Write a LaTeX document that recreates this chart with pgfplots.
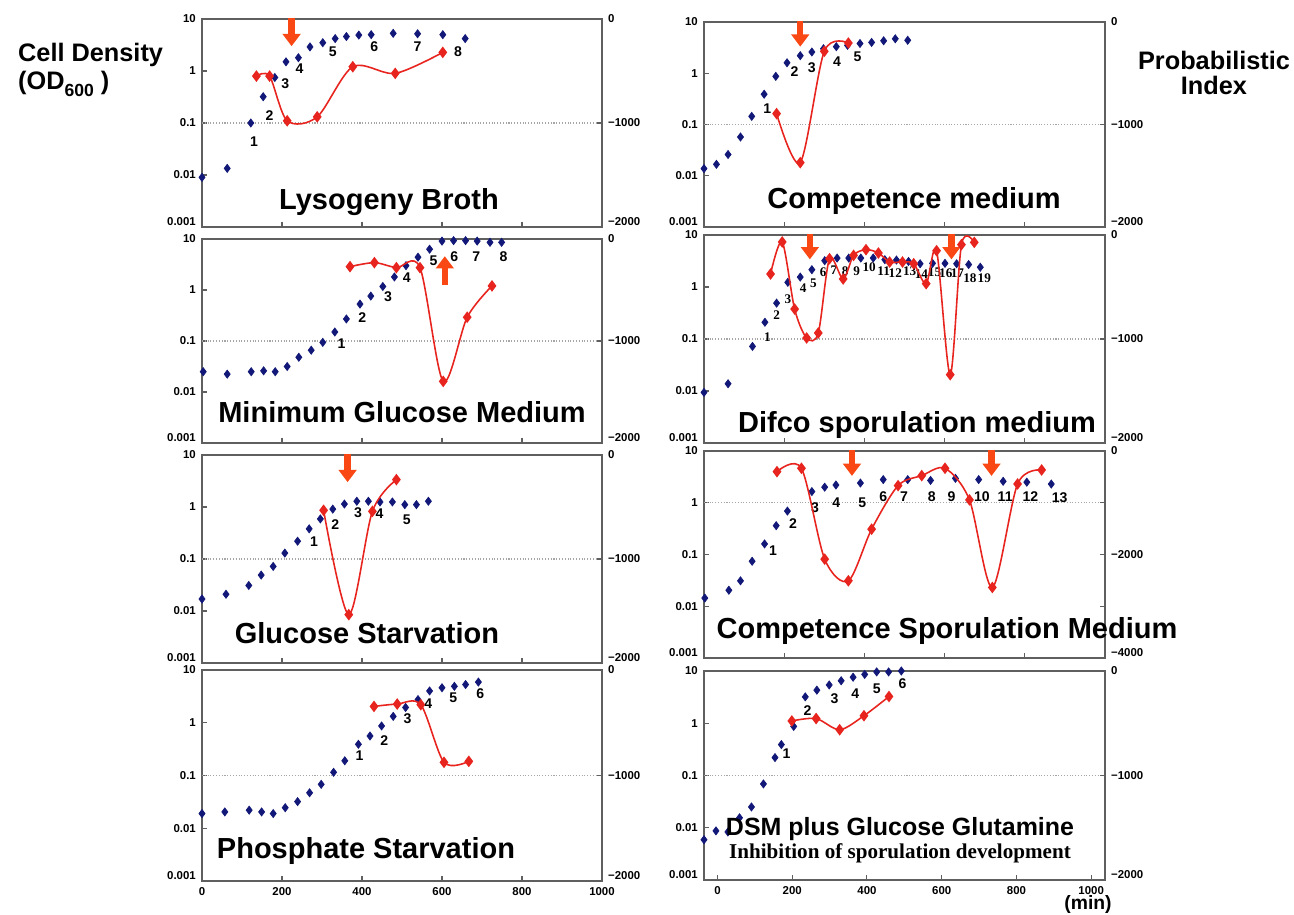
\documentclass[border=0pt]{standalone}
\usepackage{fontspec}
\setmainfont{Liberation Sans}
\newfontfamily\serifb{Liberation Serif}
\usepackage{pgfplots}
\pgfplotsset{compat=1.18}
\usetikzlibrary{arrows.meta}
\definecolor{navy}{RGB}{18,24,120}
\definecolor{pired}{RGB}{232,36,30}
\definecolor{arrowc}{RGB}{250,72,20}
\definecolor{framec}{RGB}{95,95,95}
\newcommand\tickf{\fontsize{6.5}{7.5}\selectfont\bfseries}
\newcommand\numf{\fontsize{8}{9}\selectfont\bfseries}
\newcommand\numsf{\serifb\fontsize{7.5}{8}\selectfont\bfseries}
\newcommand\ttlf{\bfseries\fontsize{16.5}{18}\selectfont}
\newcommand\lo[1]{\raisebox{6pt}{#1}}
\newcommand\hi[1]{\raisebox{-2pt}{#1}}
\pgfplotsset{every axis/.append style={scale only axis, clip=false, anchor=south west,
     axis line style={draw=framec, line width=0.9pt},
     tick style={draw=framec, line width=0.6pt},
     major tick length=3pt, tick align=inside,
     ticklabel style={font=\tickf}}}
\tikzset{
  bluepts/.style={mark=diamond*, mark size=2.3pt, color=navy},
  redline/.style={color=pired, line width=0.9pt, mark=diamond*, mark size=2.6pt, mark options={fill=pired}},
  arr/.style={draw=arrowc, line width=3.6pt, -{Triangle[width=10pt,length=7pt]}},
  numlab/.style={font=\numf, inner sep=0pt},
  numlabs/.style={font=\numsf, inner sep=0pt},
  dline/.style={densely dotted, gray!70, line width=0.6pt},
}
\begin{document}
\begin{tikzpicture}
\path[use as bounding box] (0,0) rectangle (25.88,18.3);

% ---------------- Panel L1: Lysogeny Broth
\begin{axis}[ymode=log, ymin=0.001, ymax=10, xmin=0, xmax=1000, ytick={0.001,0.01,0.1,1,10}, yticklabels={\lo{0.001},0.01,0.1,1,\hi{10}}, yminorticks=false, ytick pos=left, xtick pos=bottom, xtick={200,400,600,800}, xticklabels={}, at={(4.04cm,13.76cm)}, width=8cm, height=4.16cm]
\draw[dline] (axis cs:0,0.1) -- (axis cs:1000,0.1);
\addplot[only marks, bluepts] coordinates {(0,0.009) (63,0.0134) (122,0.1) (153,0.32) (182,0.75) (210,1.5) (241,1.8) (270,2.9) (302,3.5) (333,4.2) (361,4.6) (392,4.9) (423,5.0) (478,5.3) (539,5.2) (602,5.0) (658,4.2)};
\node[numlab] at (axis cs:130,0.044) {1};
\node[numlab] at (axis cs:169,0.14) {2};
\node[numlab] at (axis cs:208,0.58) {3};
\node[numlab] at (axis cs:244,1.1) {4};
\node[numlab] at (axis cs:327,2.36) {5};
\node[numlab] at (axis cs:431,2.9) {6};
\node[numlab] at (axis cs:539,2.9) {7};
\node[numlab] at (axis cs:640,2.36) {8};
\draw[arr] (axis cs:224,10.5) -- (axis cs:224,3.0);
\end{axis}
\begin{axis}[axis y line*=right, axis x line=none, ymin=-2000, ymax=0, xmin=0, xmax=1000, ytick={-2000,-1000,0}, yticklabels={\lo{−2000},−1000,\hi{0}}, at={(4.04cm,13.76cm)}, width=8cm, height=4.16cm]
\addplot[smooth, redline] coordinates {(136,-549) (169,-549) (213,-979) (288,-941) (377,-459) (483,-523) (602,-321)};
\end{axis}

% ---------------- Panel L2: Minimum Glucose Medium
\begin{axis}[ymode=log, ymin=0.001, ymax=10, xmin=0, xmax=1000, ytick={0.001,0.01,0.1,1,10}, yticklabels={\lo{0.001},0.01,0.1,1,\hi{10}}, yminorticks=false, ytick pos=left, xtick pos=bottom, xtick={200,400,600,800}, xticklabels={}, at={(4.04cm,9.44cm)}, width=8cm, height=4.08cm]
\draw[dline] (axis cs:0,0.1) -- (axis cs:1000,0.1);
\addplot[only marks, bluepts] coordinates {(3,0.025) (63,0.0224) (123,0.025) (154,0.026) (183,0.025) (213,0.0316) (242,0.048) (273,0.066) (302,0.094) (332,0.15) (361,0.27) (395,0.53) (422,0.76) (452,1.17) (481,1.8) (510,3.0) (540,4.4) (569,6.3) (600,9.1) (629,9.3) (659,9.3) (688,9.1) (720,8.6) (749,8.6)};
\node[numlab] at (axis cs:349,0.09) {1};
\node[numlab] at (axis cs:401,0.29) {2};
\node[numlab] at (axis cs:465,0.74) {3};
\node[numlab] at (axis cs:512,1.78) {4};
\node[numlab] at (axis cs:579,3.7) {5};
\node[numlab] at (axis cs:631,4.5) {6};
\node[numlab] at (axis cs:686,4.5) {7};
\node[numlab] at (axis cs:754,4.5) {8};
\draw[arr] (axis cs:607,1.25) -- (axis cs:607,4.6);
\end{axis}
\begin{axis}[axis y line*=right, axis x line=none, ymin=-2000, ymax=0, xmin=0, xmax=1000, ytick={-2000,-1000,0}, yticklabels={\lo{−2000},−1000,\hi{0}}, at={(4.04cm,9.44cm)}, width=8cm, height=4.08cm]
\addplot[smooth, redline] coordinates {(370,-271) (431,-232) (486,-281) (545,-281) (603,-1396) (663,-767) (725,-460)};
\end{axis}

% ---------------- Panel L3: Glucose Starvation
\begin{axis}[ymode=log, ymin=0.001, ymax=10, xmin=0, xmax=1000, ytick={0.001,0.01,0.1,1,10}, yticklabels={\lo{0.001},0.01,0.1,1,\hi{10}}, yminorticks=false, ytick pos=left, xtick pos=bottom, xtick={200,400,600,800}, xticklabels={}, at={(4.04cm,5.04cm)}, width=8cm, height=4.16cm]
\draw[dline] (axis cs:0,0.1) -- (axis cs:1000,0.1);
\addplot[only marks, bluepts] coordinates {(0,0.017) (60,0.021) (117,0.031) (148,0.049) (178,0.072) (207,0.13) (239,0.22) (268,0.38) (296,0.59) (327,0.91) (356,1.14) (387,1.29) (416,1.29) (445,1.25) (476,1.25) (507,1.11) (536,1.11) (566,1.29)};
\node[numlab] at (axis cs:280,0.22) {1};
\node[numlab] at (axis cs:333,0.46) {2};
\node[numlab] at (axis cs:390,0.77) {3};
\node[numlab] at (axis cs:444,0.74) {4};
\node[numlab] at (axis cs:512,0.57) {5};
\draw[arr] (axis cs:364,10.5) -- (axis cs:364,3.0);
\end{axis}
\begin{axis}[axis y line*=right, axis x line=none, ymin=-2000, ymax=0, xmin=0, xmax=1000, ytick={-2000,-1000,0}, yticklabels={\lo{−2000},−1000,\hi{0}}, at={(4.04cm,5.04cm)}, width=8cm, height=4.16cm]
\addplot[smooth, redline] coordinates {(304,-532) (367,-1535) (426,-542) (486,-237)};
\end{axis}

% ---------------- Panel L4: Phosphate Starvation
\begin{axis}[ymode=log, ymin=0.001, ymax=10, xmin=0, xmax=1000, ytick={0.001,0.01,0.1,1,10}, yticklabels={\lo{0.001},0.01,0.1,1,\hi{10}}, yminorticks=false, ytick pos=left, xtick pos=bottom, xtick={0,200,400,600,800,1000}, xticklabels={0,200,400,600,800,1000}, at={(4.04cm,0.68cm)}, width=8cm, height=4.22cm]
\draw[dline] (axis cs:0,0.1) -- (axis cs:1000,0.1);
\addplot[only marks, bluepts] coordinates {(0,0.019) (57,0.0204) (118,0.022) (149,0.0204) (178,0.019) (208,0.0245) (239,0.032) (269,0.047) (298,0.068) (329,0.115) (357,0.19) (391,0.39) (420,0.56) (449,0.87) (478,1.32) (509,1.95) (540,2.75) (569,4.0) (600,4.6) (631,4.9) (659,5.3) (691,5.9)};
\node[numlab] at (axis cs:394,0.24) {1};
\node[numlab] at (axis cs:456,0.45) {2};
\node[numlab] at (axis cs:514,1.2) {3};
\node[numlab] at (axis cs:566,2.3) {4};
\node[numlab] at (axis cs:628,2.95) {5};
\node[numlab] at (axis cs:696,3.6) {6};
\end{axis}
\begin{axis}[axis y line*=right, axis x line=none, ymin=-2000, ymax=0, xmin=0, xmax=1000, ytick={-2000,-1000,0}, yticklabels={\lo{−2000},−1000,\hi{0}}, at={(4.04cm,0.68cm)}, width=8cm, height=4.22cm]
\addplot[smooth, redline] coordinates {(430,-345) (488,-323) (547,-329) (605,-875) (667,-866)};
\end{axis}

% ---------------- Panel R1: Competence medium
\begin{axis}[ymode=log, ymin=0.001, ymax=10, xmin=0, xmax=1000, ytick={0.001,0.01,0.1,1,10}, yticklabels={\lo{0.001},0.01,0.1,1,\hi{10}}, yminorticks=false, ytick pos=left, xtick pos=bottom, xtick={200,400,600,800}, xticklabels={}, at={(14.08cm,13.76cm)}, width=8.02cm, height=4.10cm]
\draw[dline] (axis cs:0,0.1) -- (axis cs:1000,0.1);
\addplot[only marks, bluepts] coordinates {(0,0.0138) (31,0.0167) (60,0.026) (91,0.057) (119,0.144) (150,0.39) (179,0.87) (207,1.6) (240,2.2) (269,2.6) (298,3.0) (330,3.3) (358,3.5) (389,3.8) (418,4.0) (448,4.3) (477,4.7) (508,4.4)};
\node[numlab] at (axis cs:158,0.2) {1};
\node[numlab] at (axis cs:226,1.1) {2};
\node[numlab] at (axis cs:269,1.26) {3};
\node[numlab] at (axis cs:332,1.66) {4};
\node[numlab] at (axis cs:383,2.1) {5};
\draw[arr] (axis cs:240,10.5) -- (axis cs:240,3.3);
\end{axis}
\begin{axis}[axis y line*=right, axis x line=none, ymin=-2000, ymax=0, xmin=0, xmax=1000, ytick={-2000,-1000,0}, yticklabels={\lo{−2000},−1000,\hi{0}}, at={(14.08cm,13.76cm)}, width=8.02cm, height=4.10cm]
\addplot[smooth, redline] coordinates {(181,-894) (240,-1372) (300,-286) (360,-205)};
\end{axis}

% ---------------- Panel R2: Difco sporulation medium
\begin{axis}[ymode=log, ymin=0.001, ymax=10, xmin=0, xmax=1000, ytick={0.001,0.01,0.1,1,10}, yticklabels={\lo{0.001},0.01,0.1,1,\hi{10}}, yminorticks=false, ytick pos=left, xtick pos=bottom, xtick={200,400,600,800}, xticklabels={}, at={(14.08cm,9.44cm)}, width=8.02cm, height=4.16cm]
\draw[dline] (axis cs:0,0.1) -- (axis cs:1000,0.1);
\addplot[only marks, bluepts] coordinates {(0,0.0094) (60,0.0138) (121,0.072) (152,0.21) (181,0.49) (209,1.23) (240,1.55) (269,2.15) (301,3.2) (332,3.6) (361,3.6) (391,3.6) (422,3.6) (451,3.35) (480,3.3) (510,3.1) (539,2.8) (570,2.85) (601,2.85) (630,2.8) (660,2.7) (689,2.4)};
\node[numlabs] at (axis cs:158,0.11) {1};
\node[numlabs] at (axis cs:181,0.29) {2};
\node[numlabs] at (axis cs:209,0.57) {3};
\node[numlabs] at (axis cs:247,0.96) {4};
\node[numlabs] at (axis cs:273,1.2) {5};
\node[numlabs] at (axis cs:297,1.9) {6};
\node[numlabs] at (axis cs:324,2.15) {7};
\node[numlabs] at (axis cs:352,2.0) {8};
\node[numlabs] at (axis cs:381,2.0) {9};
\node[numlabs] at (axis cs:412,2.4) {10};
\node[numlabs] at (axis cs:448,2.0) {11};
\node[numlabs] at (axis cs:477,1.86) {12};
\node[numlabs] at (axis cs:513,2.0) {13};
\node[numlabs] at (axis cs:542,1.73) {14};
\node[numlabs] at (axis cs:575,1.9) {15};
\node[numlabs] at (axis cs:603,1.86) {16};
\node[numlabs] at (axis cs:632,1.86) {17};
\node[numlabs] at (axis cs:663,1.5) {18};
\node[numlabs] at (axis cs:699,1.5) {19};
\draw[arr] (axis cs:264,10.5) -- (axis cs:264,3.4);
\draw[arr] (axis cs:617,10.5) -- (axis cs:617,3.4);
\end{axis}
\begin{axis}[axis y line*=right, axis x line=none, ymin=-2000, ymax=0, xmin=0, xmax=1000, ytick={-2000,-1000,0}, yticklabels={\lo{−2000},−1000,\hi{0}}, at={(14.08cm,9.44cm)}, width=8.02cm, height=4.16cm]
\addplot[smooth, redline] coordinates {(166,-375) (195,-67) (226,-712) (256,-990) (285,-942) (313,-228) (347,-423) (373,-196) (404,-141) (435,-173) (463,-260) (495,-260) (523,-276) (554,-468) (580,-151) (614,-1343) (642,-93) (674,-71)};
\end{axis}

% ---------------- Panel R3: Competence Sporulation Medium
\begin{axis}[ymode=log, ymin=0.001, ymax=10, xmin=0, xmax=1000, ytick={0.001,0.01,0.1,1,10}, yticklabels={\lo{0.001},0.01,0.1,1,\hi{10}}, yminorticks=false, ytick pos=left, xtick pos=bottom, xtick={200,400,600,800}, xticklabels={}, at={(14.08cm,5.14cm)}, width=8.02cm, height=4.14cm]
\draw[dline] (axis cs:0,1) -- (axis cs:1000,1);
\addplot[only marks, bluepts] coordinates {(2,0.0144) (62,0.0204) (91,0.031) (120,0.074) (151,0.16) (180,0.36) (208,0.69) (269,1.64) (301,2.0) (329,2.2) (390,2.4) (447,2.8) (508,2.8) (565,2.7) (627,2.96) (685,2.8) (746,2.6) (805,2.5) (866,2.3)};
\node[numlab] at (axis cs:172,0.12) {1};
\node[numlab] at (axis cs:222,0.4) {2};
\node[numlab] at (axis cs:277,0.82) {3};
\node[numlab] at (axis cs:330,1.0) {4};
\node[numlab] at (axis cs:395,1.0) {5};
\node[numlab] at (axis cs:447,1.3) {6};
\node[numlab] at (axis cs:499,1.3) {7};
\node[numlab] at (axis cs:568,1.3) {8};
\node[numlab] at (axis cs:617,1.3) {9};
\node[numlab] at (axis cs:693,1.3) {10};
\node[numlab] at (axis cs:751,1.3) {11};
\node[numlab] at (axis cs:814,1.3) {12};
\node[numlab] at (axis cs:887,1.25) {13};
\draw[arr] (axis cs:369,10.5) -- (axis cs:369,3.3);
\draw[arr] (axis cs:717,10.5) -- (axis cs:717,3.3);
\end{axis}
\begin{axis}[axis y line*=right, axis x line=none, ymin=-4000, ymax=0, xmin=0, xmax=1000, ytick={-4000,-3000,-2000,-1000,0}, yticklabels={\lo{−4000},,−2000,,\hi{0}}, at={(14.08cm,5.14cm)}, width=8.02cm, height=4.14cm]
\addplot[smooth, redline] coordinates {(182,-399) (243,-334) (301,-2090) (360,-2508) (418,-1511) (484,-669) (543,-476) (601,-334) (662,-945) (719,-2637) (782,-637) (842,-367)};
\end{axis}

% ---------------- Panel R4: DSM plus Glucose Glutamine
\begin{axis}[ymode=log, ymin=0.001, ymax=10, xmin=-36, xmax=1037, ytick={0.001,0.01,0.1,1,10}, yticklabels={\lo{0.001},0.01,0.1,1,\hi{10}}, yminorticks=false, ytick pos=left, xtick pos=bottom, xtick={0,200,400,600,800,1000}, xticklabels={0,200,400,600,800,1000}, at={(14.08cm,0.70cm)}, width=8.02cm, height=4.18cm]
\draw[dline] (axis cs:-36,0.1) -- (axis cs:1037,0.1);
\addplot[only marks, bluepts] coordinates {(-36,0.0059) (-4,0.0087) (28,0.0083) (59,0.0155) (91,0.025) (123,0.069) (154,0.22) (171,0.39) (204,0.87) (235,3.2) (266,4.3) (299,5.4) (331,6.5) (363,7.6) (394,8.6) (426,9.6) (458,9.6) (492,10)};
\node[numlab] at (axis cs:185,0.26) {1};
\node[numlab] at (axis cs:241,1.75) {2};
\node[numlab] at (axis cs:313,2.9) {3};
\node[numlab] at (axis cs:369,3.7) {4};
\node[numlab] at (axis cs:426,4.6) {5};
\node[numlab] at (axis cs:495,5.8) {6};
\end{axis}
\begin{axis}[axis y line*=right, axis x line=none, ymin=-2000, ymax=0, xmin=-36, xmax=1037, ytick={-2000,-1000,0}, yticklabels={\lo{−2000},−1000,\hi{0}}, at={(14.08cm,0.70cm)}, width=8.02cm, height=4.18cm]
\addplot[smooth, redline] coordinates {(199,-478) (264,-455) (327,-562) (392,-428) (459,-244)};
\end{axis}

% ---------------- texts
\node[font=\ttlf, anchor=base] at (7.78,14.10) {Lysogeny Broth};
\node[font=\ttlf, anchor=base] at (18.28,14.12) {Competence medium};
\node[font=\ttlf, anchor=base] at (8.04,9.84) {Minimum Glucose Medium};
\node[font=\ttlf, anchor=base] at (18.34,9.64) {Difco sporulation medium};
\node[font=\ttlf, anchor=base] at (7.34,5.42) {Glucose Starvation};
\node[font=\ttlf, anchor=base] at (18.94,5.52) {Competence Sporulation Medium};
\node[font=\ttlf, anchor=base] at (7.32,1.12) {Phosphate Starvation};
\node[font=\bfseries\fontsize{14.2}{16}\selectfont, anchor=base] at (18.0,1.58) {DSM plus Glucose Glutamine};
\node[font=\serifb\bfseries\fontsize{12}{14}\selectfont, anchor=base] at (18.0,1.12) {Inhibition of sporulation development};
\node[font=\bfseries\fontsize{14.4}{16}\selectfont, anchor=base west] at (0.24,17.06) {Cell Density};
\node[font=\bfseries\fontsize{14.4}{16}\selectfont, anchor=base west] at (0.24,16.50) {(OD\raisebox{-0.45ex}{\fontsize{10}{10}\selectfont 600} )};
\node[font=\bfseries\fontsize{14.4}{16}\selectfont, anchor=base] at (24.28,16.90) {Probabilistic};
\node[font=\bfseries\fontsize{14.4}{16}\selectfont, anchor=base] at (24.28,16.40) {Index};
\node[font=\bfseries\fontsize{11}{12}\selectfont, anchor=base] at (21.76,0.1) {(min)};
\end{tikzpicture}
\end{document}
